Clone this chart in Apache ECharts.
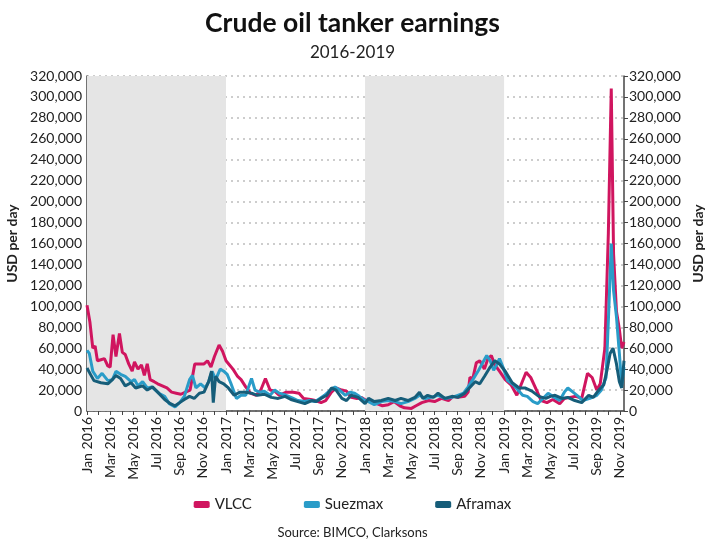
<!DOCTYPE html>
<html>
<head>
<meta charset="utf-8">
<script src="https://cdn.jsdelivr.net/npm/echarts@6/dist/echarts.min.js"></script>
<style>
  html, body { margin: 0; padding: 0; background: #fff; }
  #chart { width: 705px; height: 539px; }
</style>
</head>
<body>
<div id="chart"></div>
<script>
// months counted from Jan 2016 (0 = Jan 2016), values in thousand USD per day
var monthNames = ['Jan', 'Feb', 'Mar', 'Apr', 'May', 'Jun', 'Jul', 'Aug', 'Sep', 'Oct', 'Nov', 'Dec'];
var startYear = 2016;
var shadedYears = [[0, 12], [24, 36]]; // 2016 and 2018

var vlcc = [
    [0,101],[0.25,85],[0.5,60],[0.7,62],[0.9,48],[1.2,49],[1.5,50],[1.8,43],[2.0,42],[2.25,73],
    [2.5,52],[2.8,74],[3.05,56],[3.3,54],[3.6,45],[3.9,38],[4.1,47],[4.4,40],[4.7,44],[4.95,34],
    [5.2,45],[5.45,30],[5.8,28],[6.1,26],[6.5,24],[6.9,22],[7.3,18],[7.7,17],[8.1,16],[8.5,18],
    [8.9,20],[9.3,45],[9.7,45],[10.1,45],[10.4,48],[10.7,42],[11.0,52],[11.4,63],[11.7,57],[12.0,48],
    [12.3,44],[12.6,40],[13.0,33],[13.3,30],[13.7,23],[14.1,17],[14.6,15],[15.0,20],[15.4,31],[15.8,20],
    [16.2,19],[16.6,15],[17.2,18],[17.8,18],[18.3,17],[18.7,12],[19.3,11],[19.7,10],[20.2,8],[20.6,10],
    [21.1,18],[21.5,22],[22.0,20],[22.4,19],[22.8,13],[23.3,12],[23.7,13],[24.1,10],[24.5,10],[25.0,7],
    [25.5,5],[26.0,6],[26.5,9],[27.0,5],[27.4,3],[28.0,2.5],[28.4,5],[28.9,8],[29.5,10],[30.0,9],
    [30.6,12],[31.2,10],[31.6,14],[32.0,13],[32.6,14],[32.9,18],[33.05,32],[33.3,31],[33.6,46],[33.9,48],
    [34.3,40],[34.6,50],[34.9,53],[35.2,44],[35.6,38],[36.1,30],[36.6,25],[37.1,15],[37.5,26],[37.9,37],
    [38.3,32],[38.8,20],[39.2,10],[39.7,8],[40.2,11],[40.8,7],[41.2,12],[41.7,13],[42.2,14],[42.7,12],
    [43.2,36],[43.6,32],[44.0,20],[44.3,26],[44.7,60],[45.0,170],[45.25,308],[45.45,150],[45.7,95],[45.95,78],
    [46.15,60],[46.35,66]
];

var suezmax = [
    [0,58],[0.2,55],[0.5,38],[0.9,31],[1.3,36],[1.8,29],[2.2,30],[2.5,38],[2.9,35],[3.3,33],
    [3.8,28],[4.1,30],[4.4,24],[4.8,28],[5.2,22],[5.6,23],[6.2,17],[6.7,14],[7.1,7],[7.6,4],
    [8.0,8],[8.4,14],[8.85,30],[9.1,34],[9.4,22],[9.8,26],[10.2,22],[10.5,28],[10.8,38],[11.1,30],
    [11.5,40],[11.8,38],[12.1,35],[12.4,27],[12.9,12],[13.3,15],[13.7,15],[14.2,31],[14.5,20],[14.9,18],
    [15.3,19],[15.8,15],[16.2,20],[16.6,17],[17.2,15],[17.8,12],[18.2,10],[18.8,9],[19.2,10],[19.7,9],
    [20.1,12],[20.5,15],[21.0,20],[21.4,23],[21.8,20],[22.3,15],[22.7,18],[23.1,17],[23.5,14],[24.0,10],
    [24.3,9],[24.8,6],[25.4,9],[26.0,10],[26.6,9],[27.1,7],[27.7,9],[28.3,12],[28.7,15],[29.2,12],
    [29.7,13],[30.3,15],[30.9,12],[31.5,13],[32.0,15],[32.5,17],[32.9,23],[33.3,30],[33.8,39],[34.2,47],
    [34.5,53],[34.8,48],[35.1,39],[35.4,45],[35.6,50],[35.9,42],[36.3,29],[36.8,25],[37.2,20],[37.6,15],
    [38.0,14],[38.5,9],[38.9,7],[39.35,12],[39.8,17],[40.2,14],[40.8,10],[41.2,18],[41.5,22],[41.95,18],
    [42.4,14],[42.8,10],[43.4,12],[44.0,15],[44.4,20],[44.8,32],[45.05,100],[45.25,160],[45.45,115],[45.7,90],
    [45.95,55],[46.15,25],[46.35,42]
];

var aframax = [
    [0,41],[0.3,35],[0.6,29],[1.2,27],[1.8,26],[2.1,29],[2.5,34],[2.9,31],[3.3,24],[3.8,27],
    [4.2,22],[4.8,24],[5.2,20],[5.65,23],[6.1,18],[6.7,11],[7.2,7],[7.6,5],[8.0,8],[8.4,11],
    [8.85,14],[9.25,12],[9.7,17],[10.1,18],[10.5,28],[10.75,38],[10.9,8],[11.1,33],[11.4,28],[11.8,26],
    [12.2,22],[12.7,15],[13.2,18],[13.7,18],[14.2,17],[14.7,15],[15.3,16],[15.9,13],[16.5,12],[17.1,14],
    [17.6,11],[18.2,9],[18.8,7],[19.4,10],[19.8,9],[20.2,12],[20.7,15],[21.1,22],[21.5,20],[22.0,12],
    [22.4,10],[22.8,15],[23.4,13],[24.0,7],[24.3,12],[24.8,9],[25.4,10],[26.0,12],[26.6,10],[27.1,12],
    [27.7,10],[28.3,13],[28.7,18],[29.0,12],[29.4,15],[29.9,13],[30.3,17],[30.9,12],[31.5,14],[32.0,13],
    [32.6,17],[33.0,22],[33.5,28],[33.9,26],[34.3,33],[34.8,42],[35.2,48],[35.6,45],[36.1,38],[36.7,27],
    [37.3,22],[37.8,22],[38.4,19],[39.0,14],[39.6,12],[40.0,14],[40.4,15],[41.0,12],[41.5,13],[42.1,10],
    [42.7,8],[43.3,15],[43.7,13],[44.1,19],[44.6,25],[44.9,40],[45.15,55],[45.4,60],[45.7,45],[45.95,28],
    [46.15,22],[46.35,48]
];

var FONT = 'Lato';
var TEXT_COLOR = '#222';

function yLabel(v) {
    return v === 0 ? '0' : v + ',000';
}

function xLabel(v) {
    // label every 2nd month only
    if (v % 2 !== 0 || Math.round(v) !== v) return '';
    return monthNames[v % 12] + ' ' + (startYear + Math.floor(v / 12));
}

function makeYAxis(pos) {
    return {
        type: 'value',
        position: pos,
        min: 0,
        max: 320,
        interval: 20,
        name: 'USD per day',
        nameLocation: 'middle',
        nameRotate: 90,
        nameGap: pos === 'left' ? 66 : 67,
        nameTextStyle: { fontFamily: FONT, fontWeight: 'bold', fontSize: 14, color: TEXT_COLOR },
        axisLine: { show: true, lineStyle: { color: '#444', width: 1.5 } },
        axisTick: { show: pos === 'right', length: 4, lineStyle: { color: '#444' } },
        axisLabel: { fontFamily: FONT, fontSize: 14, color: TEXT_COLOR, margin: 5, formatter: yLabel },
        splitLine: {
            show: pos === 'left',
            lineStyle: { color: '#bdbdbd', type: [2, 4], width: 1.5 }
        }
    };
}

var chart = echarts.init(document.getElementById('chart'));

var option = {
    backgroundColor: '#fff',
    animation: false,
    color: ['#d0155f', '#2a9cc8', '#165d79'],
    title: [
        {
            text: 'Crude oil tanker earnings',
            left: 'center',
            top: 5,
            textStyle: { fontFamily: FONT, fontSize: 26.5, fontWeight: 'bold', color: '#111' }
        },
        {
            text: '2016-2019',
            left: 'center',
            top: 39,
            textStyle: { fontFamily: FONT, fontSize: 17, fontWeight: 'normal', color: '#222' }
        },
        {
            text: 'Source: BIMCO, Clarksons',
            left: 'center',
            top: 521,
            textStyle: { fontFamily: FONT, fontSize: 13, fontWeight: 'normal', color: '#222' }
        }
    ],
    legend: {
        bottom: 22,
        left: 'center',
        itemGap: 52,
        itemWidth: 16,
        itemHeight: 7,
        icon: 'roundRect',
        textStyle: { fontFamily: FONT, fontSize: 15, color: TEXT_COLOR },
        data: ['VLCC', 'Suezmax', 'Aframax']
    },
    grid: { left: 87, right: 81, top: 76, bottom: 128, outerBoundsMode: 'none' },
    xAxis: {
        type: 'value',
        min: 0,
        max: 46.35,
        interval: 1,
        axisLine: { show: true, onZero: false, lineStyle: { color: '#444', width: 1.5 } },
        axisTick: { show: true, length: 4, lineStyle: { color: '#444' } },
        axisLabel: {
            fontFamily: FONT,
            fontSize: 14,
            color: TEXT_COLOR,
            rotate: 90,
            margin: 6,
            showMaxLabel: false,
            formatter: xLabel
        },
        splitLine: { show: false }
    },
    yAxis: [makeYAxis('left'), makeYAxis('right')],
    series: [
        {
            name: 'VLCC',
            type: 'line',
            data: vlcc,
            showSymbol: false,
            lineStyle: { width: 3 },
            markArea: {
                silent: true,
                itemStyle: { color: '#e5e5e5' },
                data: shadedYears.map(function (r) {
                    return [{ xAxis: r[0] }, { xAxis: r[1] }];
                })
            },
            z: 2
        },
        {
            name: 'Suezmax',
            type: 'line',
            data: suezmax,
            showSymbol: false,
            lineStyle: { width: 3 },
            z: 3
        },
        {
            name: 'Aframax',
            type: 'line',
            data: aframax,
            showSymbol: false,
            lineStyle: { width: 3 },
            z: 4
        }
    ]
};

chart.setOption(option);
</script>
</body>
</html>
